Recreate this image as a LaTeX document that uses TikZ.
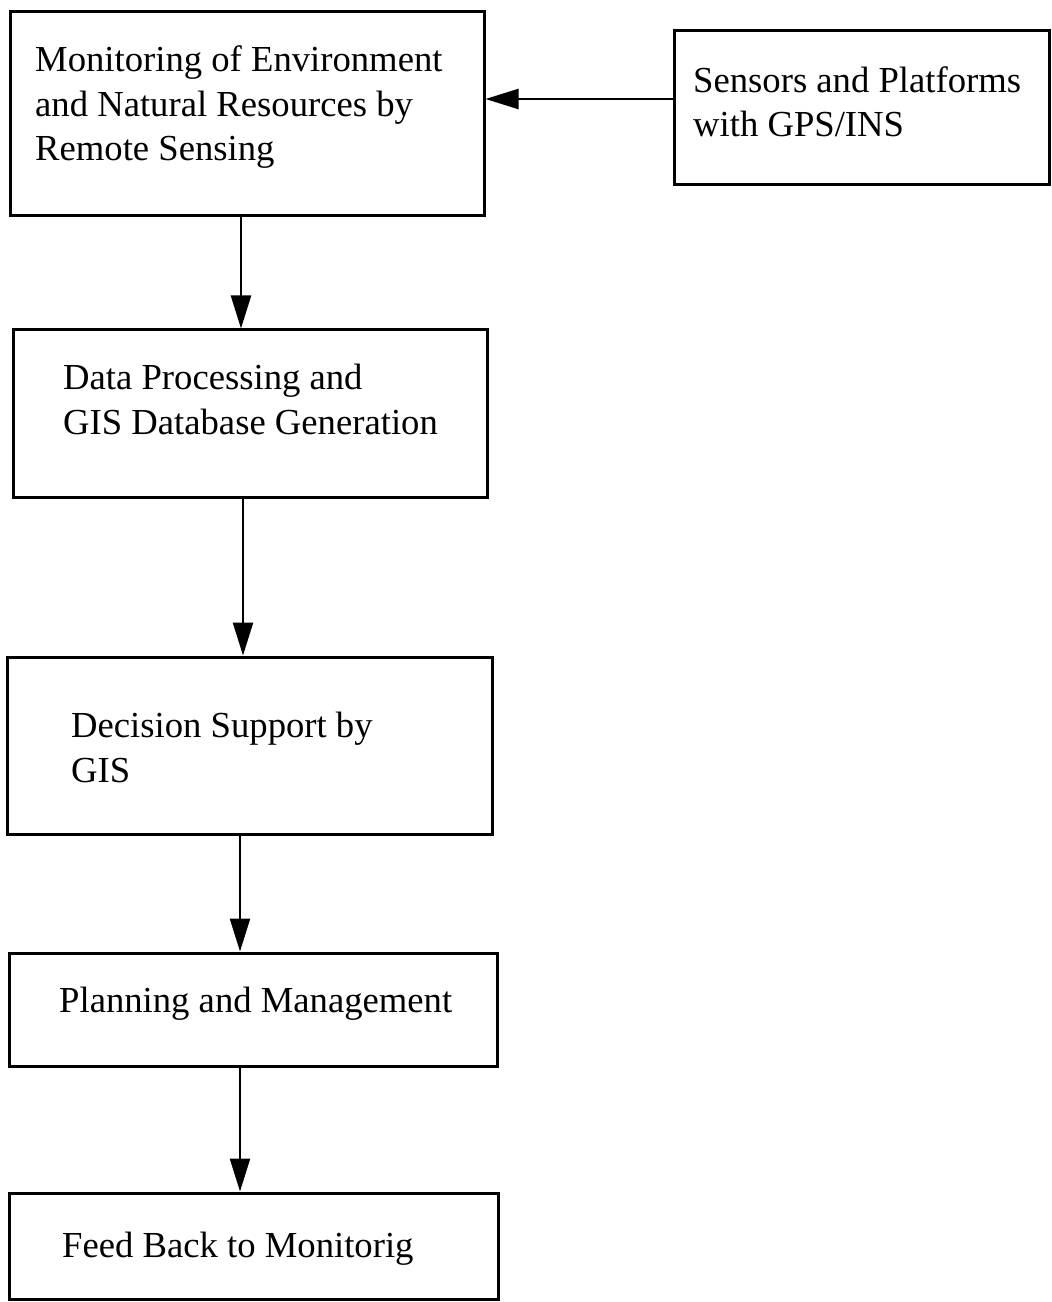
\documentclass[tikz,border=0pt]{standalone}
\usepackage{fontspec}
\setmainfont{Liberation Serif}
\usetikzlibrary{arrows.meta}

\begin{document}
\begin{tikzpicture}[x=1bp,y=-1bp,
  box/.style={draw, line width=3bp, inner sep=0pt},
  lbl/.style={anchor=base west, align=left, inner sep=0pt,
    font=\fontsize{36.8}{45}\selectfont},
  flow/.style={line width=2.4bp, -{Triangle[length=33bp,width=20bp]}}]
  \useasboundingbox (0,0) rectangle (1051,1302);

  % process boxes
  \node[box, minimum width=473bp, minimum height=204bp] (mon) at (247.5,114) {};
  \node[box, minimum width=375bp, minimum height=154bp] (sen) at (861.5,108) {};
  \node[box, minimum width=473bp, minimum height=167bp] (dat) at (250.5,413.5) {};
  \node[box, minimum width=485bp, minimum height=177bp] (dec) at (250,745.5) {};
  \node[box, minimum width=487bp, minimum height=113bp] (pla) at (253.5,1009.5) {};
  \node[box, minimum width=488bp, minimum height=106bp] (fee) at (254,1246) {};

  % box texts (the base anchor sits on the last line)
  \node[lbl] (tmon) at (35,161) {Monitoring of Environment\\and Natural Resources by\\Remote Sensing};
  \node[lbl] (tsen) at (693,137) {Sensors and Platforms\\with GPS/INS};
  \node[lbl] (tdat) at (63,434) {Data Processing and\\GIS Database Generation};
  \node[lbl] (tdec) at (71,782) {Decision Support by\\GIS};
  \node[lbl] (tpla) at (59,1012) {Planning and Management};
  \node[lbl] (tfee) at (62,1257) {Feed Back to Monitorig};

  % connector columns
  \coordinate (c1) at (241,0);
  \coordinate (c2) at (243,0);
  \coordinate (c3) at (240,0);
  \coordinate (r1) at (0,99);

  % connectors
  \draw[flow] (sen.west |- r1) -- (mon.east |- r1);
  \draw[flow] (mon.south -| c1) -- (dat.north -| c1);
  \draw[flow] (dat.south -| c2) -- (dec.north -| c2);
  \draw[flow] (dec.south -| c3) -- (pla.north -| c3);
  \draw[flow] (pla.south -| c3) -- (fee.north -| c3);
\end{tikzpicture}
\end{document}
